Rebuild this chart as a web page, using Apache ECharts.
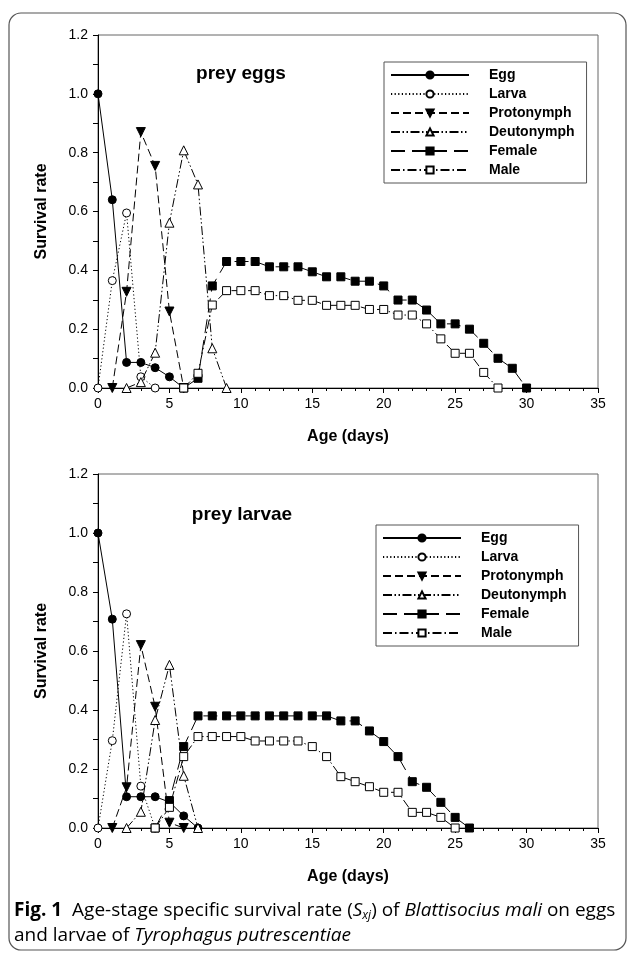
<!DOCTYPE html>
<html>
<head>
<meta charset="utf-8">
<script src="https://cdn.jsdelivr.net/npm/echarts@6/dist/echarts.min.js"></script>
<style>html,body{margin:0;padding:0;background:#fff}#c{width:630px;height:955px}</style>
</head>
<body>
<div id="c"></div>
<script>
// ---------- data ----------
const stageNames = ['Egg', 'Larva', 'Protonymph', 'Deutonymph', 'Female', 'Male'];
const xTicks = [0, 5, 10, 15, 20, 25, 30, 35];
const yTicks = [0.0, 0.2, 0.4, 0.6, 0.8, 1.0, 1.2];

// prey eggs panel: first day of each series, then daily values
const eggsStart = [0, 0, 1, 2, 6, 6];
const eggsEgg = [1.0, 0.64, 0.087, 0.087, 0.069, 0.038, 0];
const eggsLarva = [0, 0.365, 0.595, 0.038, 0];
const eggsProto = [0, 0.327, 0.87, 0.755, 0.26, 0];
const eggsDeuto = [0, 0.02, 0.12, 0.562, 0.808, 0.692, 0.135, 0];
const eggsFemale = [0, 0.033, 0.347, 0.43, 0.43, 0.43, 0.412, 0.412, 0.412, 0.395, 0.378, 0.378, 0.363, 0.363, 0.347, 0.299, 0.299, 0.265, 0.218, 0.218, 0.2, 0.152, 0.101, 0.067, 0];
const eggsMale = [0, 0.05, 0.282, 0.331, 0.331, 0.331, 0.314, 0.314, 0.298, 0.298, 0.281, 0.281, 0.281, 0.267, 0.267, 0.248, 0.248, 0.218, 0.167, 0.118, 0.118, 0.053, 0];

// prey larvae panel
const larvaeStart = [0, 0, 1, 2, 4, 4];
const larvaeEgg = [1.0, 0.708, 0.106, 0.106, 0.106, 0.088, 0.041, 0];
const larvaeLarva = [0, 0.296, 0.726, 0.142, 0];
const larvaeProto = [0, 0.138, 0.62, 0.411, 0.018, 0];
const larvaeDeuto = [0, 0.055, 0.366, 0.553, 0.177, 0];
const larvaeFemale = [0, 0.093, 0.276, 0.38, 0.38, 0.38, 0.38, 0.38, 0.38, 0.38, 0.38, 0.38, 0.38, 0.363, 0.363, 0.329, 0.293, 0.242, 0.157, 0.138, 0.087, 0.036, 0];
const larvaeMale = [0, 0.07, 0.242, 0.31, 0.31, 0.31, 0.31, 0.295, 0.295, 0.295, 0.295, 0.276, 0.242, 0.174, 0.157, 0.14, 0.121, 0.121, 0.053, 0.053, 0.036, 0];

// ---------- styles ----------
const F = 'Liberation Sans, Arial, sans-serif';
const CF = 'Open Sans, sans-serif';
const styles = [
  {symbol: 'circle', size: 8, fill: '#000', dash: 'solid', rot: 0},
  {symbol: 'circle', size: 8, fill: '#fff', dash: [1.2, 2.4], rot: 0},
  {symbol: 'triangle', size: 9, fill: '#000', dash: [8, 4], rot: 180},
  {symbol: 'triangle', size: 9, fill: '#fff', dash: [9, 2.5, 1.5, 2.5, 1.5, 2.5], rot: 0},
  {symbol: 'rect', size: 8, fill: '#000', dash: [14, 7], rot: 0},
  {symbol: 'rect', size: 8, fill: '#fff', dash: [9, 3, 1.5, 3], rot: 0}
];

function toPairs(start, vals) {
  return vals.map((v, i) => [start + i, v]);
}

function buildSeries(starts, sets, gi) {
  return sets.map((vals, k) => ({
    name: stageNames[k],
    type: 'line',
    xAxisIndex: gi, yAxisIndex: gi,
    data: toPairs(starts[k], vals),
    symbol: styles[k].symbol,
    symbolSize: styles[k].size,
    symbolRotate: styles[k].rot,
    showAllSymbol: true,
    lineStyle: {color: '#000', width: 1, type: styles[k].dash},
    itemStyle: {color: styles[k].fill, borderColor: '#000', borderWidth: 1},
    emphasis: {disabled: true},
    animation: false,
    z: 2 + k
  }));
}

function xAxis(gi) {
  return {
    type: 'value', gridIndex: gi, min: xTicks[0], max: xTicks[xTicks.length - 1], interval: 5,
    name: 'Age (days)', nameLocation: 'middle', nameGap: 41,
    nameTextStyle: {fontFamily: F, fontSize: 16, fontWeight: 'bold', color: '#000'},
    axisLine: {show: true, lineStyle: {color: '#000', width: 1}},
    axisTick: {show: true, length: 5, lineStyle: {color: '#000'}},
    minorTick: {show: true, splitNumber: 5, length: 3, lineStyle: {color: '#000'}},
    splitLine: {show: false},
    axisLabel: {fontFamily: F, fontSize: 14, color: '#000', margin: 9}
  };
}

function yAxis(gi) {
  return {
    type: 'value', gridIndex: gi, min: yTicks[0], max: yTicks[yTicks.length - 1], interval: 0.2,
    name: 'Survival rate', nameLocation: 'middle', nameGap: 48, nameRotate: 90,
    nameTextStyle: {fontFamily: F, fontSize: 16, fontWeight: 'bold', color: '#000'},
    axisLine: {show: true, lineStyle: {color: '#000', width: 1}},
    axisTick: {show: true, length: 5, lineStyle: {color: '#000'}},
    minorTick: {show: true, splitNumber: 2, length: 5, lineStyle: {color: '#000'}},
    splitLine: {show: false},
    axisLabel: {fontFamily: F, fontSize: 14, color: '#000', margin: 10, formatter: v => v.toFixed(1)}
  };
}

function legend(left, top) {
  return {
    data: stageNames, orient: 'vertical', left: left, top: top,
    itemWidth: 78, itemHeight: 9, itemGap: 5,
    padding: [6, 12, 6, 6],
    borderColor: '#555', borderWidth: 1,
    selectedMode: false,
    textStyle: {fontFamily: F, fontSize: 14, fontWeight: 'bold', color: '#000', padding: [0, 0, 0, 15], lineHeight: 14}
  };
}

const chart = echarts.init(document.getElementById('c'), null, {renderer: 'canvas'});
chart.setOption({
  backgroundColor: '#fff',
  animation: false,
  grid: [
    {left: 98, top: 35, width: 500, height: 353, show: true, borderColor: '#666', borderWidth: 1, backgroundColor: 'transparent'},
    {left: 98, top: 474, width: 500, height: 354, show: true, borderColor: '#666', borderWidth: 1, backgroundColor: 'transparent'}
  ],
  xAxis: [xAxis(0), xAxis(1)],
  yAxis: [yAxis(0), yAxis(1)],
  title: [
    {text: 'prey eggs', left: 241, top: 64, textAlign: 'center', padding: 0,
     textStyle: {fontFamily: F, fontSize: 19, fontWeight: 'bold', color: '#000'}},
    {text: 'prey larvae', left: 242, top: 505, textAlign: 'center', padding: 0,
     textStyle: {fontFamily: F, fontSize: 19, fontWeight: 'bold', color: '#000'}}
  ],
  legend: [legend(384, 62), legend(376, 525)],
  series: buildSeries(eggsStart, [eggsEgg, eggsLarva, eggsProto, eggsDeuto, eggsFemale, eggsMale], 0)
    .concat(buildSeries(larvaeStart, [larvaeEgg, larvaeLarva, larvaeProto, larvaeDeuto, larvaeFemale, larvaeMale], 1)),
  graphic: [
    {type: 'rect', shape: {x: 9, y: 13, width: 617, height: 937, r: 12}, silent: true,
     style: {fill: 'none', stroke: '#555', lineWidth: 1.2}},
    {type: 'text', left: 14, top: 898, silent: true,
     style: {
       text: '{b|Fig. 1}  Age-stage specific survival rate ({i|S}{s|xj}) of {i|Blattisocius mali} on eggs\nand larvae of {i|Tyrophagus putrescentiae}',
       fontFamily: CF, fontSize: 19, lineHeight: 25, fill: '#000',
       rich: {
         b: {fontFamily: CF, fontSize: 19, fontWeight: 'bold', lineHeight: 25},
         i: {fontFamily: CF, fontSize: 19, fontStyle: 'italic', lineHeight: 25},
         s: {fontFamily: CF, fontSize: 12, fontStyle: 'italic', lineHeight: 25, padding: [10, 0, 0, 0]}
       }
     }}
  ]
});
</script>
</body>
</html>
